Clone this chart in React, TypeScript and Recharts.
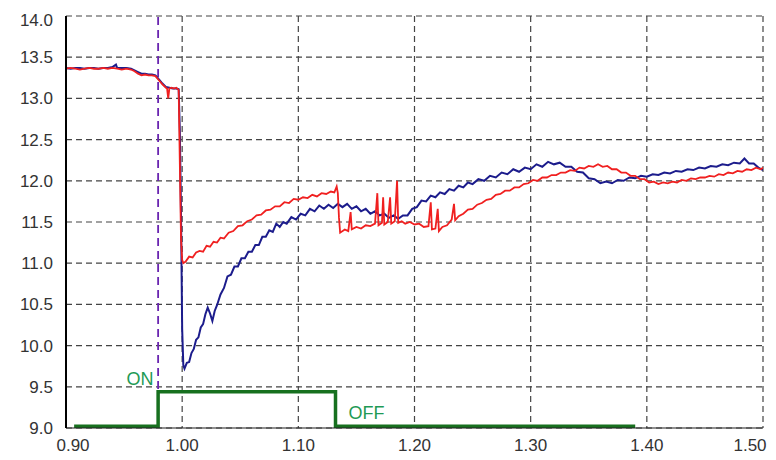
import React from 'react';
import { LineChart, Line, XAxis, YAxis, CartesianGrid, ReferenceLine, ReferenceDot } from 'recharts';

// x: time, y: voltage
const xTicks = [0.9, 1.0, 1.1, 1.2, 1.3, 1.4, 1.5];
const yTicks = [9.0, 9.5, 10.0, 10.5, 11.0, 11.5, 12.0, 12.5, 13.0, 13.5, 14.0];

const switchOn = 0.9793;

const blue: [number, number][] = [
  [0.900, 13.37], [0.904, 13.36], [0.908, 13.37], [0.912, 13.37], [0.916, 13.36], [0.920, 13.37],
  [0.924, 13.37], [0.928, 13.36], [0.932, 13.37], [0.936, 13.37], [0.940, 13.38], [0.943, 13.41],
  [0.944, 13.37], [0.948, 13.37], [0.952, 13.37], [0.956, 13.36], [0.959, 13.34], [0.962, 13.32],
  [0.965, 13.30], [0.968, 13.30], [0.971, 13.29], [0.974, 13.29], [0.977, 13.28], [0.980, 13.23],
  [0.983, 13.18], [0.986, 13.14], [0.989, 13.13], [0.992, 13.12], [0.995, 13.12], [0.997, 13.11],
  [0.998, 12.60], [0.999, 11.60], [1.000, 10.20], [1.001, 9.76], [1.002, 9.72], [1.004, 9.79],
  [1.006, 9.80], [1.008, 9.91], [1.010, 9.96], [1.012, 10.07], [1.014, 10.10], [1.016, 10.22],
  [1.018, 10.26], [1.020, 10.38], [1.022, 10.46], [1.024, 10.39], [1.026, 10.30], [1.028, 10.42],
  [1.030, 10.49], [1.033, 10.62], [1.036, 10.70], [1.039, 10.84], [1.042, 10.86], [1.045, 10.96],
  [1.048, 10.96], [1.051, 11.06], [1.054, 11.06], [1.057, 11.14], [1.060, 11.14], [1.063, 11.22],
  [1.066, 11.22], [1.069, 11.32], [1.072, 11.32], [1.075, 11.40], [1.078, 11.38], [1.081, 11.48],
  [1.084, 11.44], [1.087, 11.50], [1.090, 11.48], [1.094, 11.56], [1.098, 11.53], [1.102, 11.60],
  [1.106, 11.58], [1.110, 11.66], [1.114, 11.63], [1.118, 11.70], [1.122, 11.66], [1.126, 11.71],
  [1.130, 11.67], [1.134, 11.72], [1.138, 11.68], [1.142, 11.72], [1.146, 11.66], [1.150, 11.69],
  [1.154, 11.63], [1.158, 11.66], [1.162, 11.60], [1.166, 11.63], [1.170, 11.58], [1.174, 11.60],
  [1.178, 11.55], [1.182, 11.58], [1.186, 11.54], [1.190, 11.58], [1.194, 11.58], [1.198, 11.66],
  [1.202, 11.68], [1.206, 11.76], [1.210, 11.75], [1.214, 11.82], [1.218, 11.80], [1.222, 11.86],
  [1.226, 11.84], [1.230, 11.90], [1.234, 11.88], [1.238, 11.94], [1.242, 11.92], [1.246, 11.98],
  [1.250, 11.96], [1.255, 12.02], [1.260, 12.00], [1.265, 12.06], [1.270, 12.04], [1.275, 12.10],
  [1.280, 12.08], [1.285, 12.14], [1.290, 12.11], [1.295, 12.16], [1.300, 12.14], [1.305, 12.20],
  [1.310, 12.17], [1.315, 12.23], [1.320, 12.20], [1.325, 12.22], [1.330, 12.17], [1.335, 12.17],
  [1.340, 12.11], [1.345, 12.10], [1.350, 12.03], [1.355, 12.02], [1.360, 11.97], [1.365, 11.99],
  [1.370, 11.97], [1.375, 12.01], [1.380, 12.00], [1.385, 12.04], [1.390, 12.03], [1.395, 12.06],
  [1.400, 12.05], [1.405, 12.08], [1.410, 12.07], [1.415, 12.10], [1.420, 12.09], [1.425, 12.12],
  [1.430, 12.11], [1.435, 12.14], [1.440, 12.13], [1.445, 12.16], [1.450, 12.15], [1.455, 12.18],
  [1.460, 12.17], [1.465, 12.20], [1.470, 12.19], [1.475, 12.22], [1.480, 12.21], [1.484, 12.27],
  [1.488, 12.21], [1.492, 12.21], [1.496, 12.16], [1.500, 12.13],
];

const red: [number, number][] = [
  [0.900, 13.36], [0.904, 13.37], [0.908, 13.36], [0.912, 13.35], [0.916, 13.36], [0.920, 13.37],
  [0.924, 13.36], [0.928, 13.36], [0.932, 13.37], [0.936, 13.36], [0.940, 13.37], [0.944, 13.36],
  [0.948, 13.35], [0.952, 13.36], [0.956, 13.35], [0.959, 13.33], [0.962, 13.30], [0.965, 13.28],
  [0.968, 13.29], [0.971, 13.28], [0.974, 13.28], [0.977, 13.27], [0.980, 13.22], [0.983, 13.17],
  [0.986, 13.13], [0.987, 13.12], [0.988, 13.00], [0.989, 13.12], [0.991, 13.13], [0.993, 13.12],
  [0.995, 13.13], [0.997, 13.10], [0.998, 12.20], [0.999, 11.30], [1.000, 11.04], [1.001, 11.00],
  [1.003, 11.02], [1.006, 11.08], [1.009, 11.07], [1.012, 11.13], [1.015, 11.15], [1.018, 11.14],
  [1.021, 11.21], [1.024, 11.20], [1.027, 11.26], [1.030, 11.25], [1.033, 11.31], [1.036, 11.30],
  [1.040, 11.37], [1.044, 11.39], [1.048, 11.45], [1.052, 11.46], [1.056, 11.51], [1.060, 11.53],
  [1.064, 11.58], [1.068, 11.59], [1.072, 11.64], [1.076, 11.65], [1.080, 11.69], [1.084, 11.69],
  [1.088, 11.74], [1.092, 11.73], [1.096, 11.78], [1.100, 11.77], [1.104, 11.80], [1.108, 11.79],
  [1.112, 11.83], [1.116, 11.81], [1.120, 11.85], [1.124, 11.84], [1.128, 11.87], [1.131, 11.86],
  [1.133, 11.93], [1.134, 11.85], [1.135, 11.55], [1.136, 11.37], [1.140, 11.41], [1.143, 11.39],
  [1.145, 11.62], [1.146, 11.41], [1.150, 11.44], [1.154, 11.42], [1.158, 11.46], [1.162, 11.45],
  [1.166, 11.48], [1.168, 11.85], [1.169, 11.46], [1.172, 11.49], [1.173, 11.80], [1.174, 11.47],
  [1.177, 11.50], [1.179, 11.80], [1.180, 11.48], [1.183, 11.51], [1.185, 12.00], [1.186, 11.49],
  [1.189, 11.51], [1.192, 11.48], [1.196, 11.50], [1.200, 11.47], [1.204, 11.48], [1.208, 11.44],
  [1.212, 11.45], [1.214, 11.74], [1.215, 11.41], [1.218, 11.42], [1.220, 11.66], [1.221, 11.39],
  [1.224, 11.44], [1.228, 11.46], [1.232, 11.53], [1.234, 11.72], [1.235, 11.52], [1.238, 11.57],
  [1.242, 11.60], [1.246, 11.65], [1.250, 11.66], [1.254, 11.71], [1.258, 11.73], [1.262, 11.77],
  [1.266, 11.78], [1.270, 11.83], [1.274, 11.84], [1.278, 11.88], [1.282, 11.88], [1.286, 11.92],
  [1.290, 11.92], [1.294, 11.96], [1.298, 11.97], [1.302, 12.01], [1.306, 12.00], [1.310, 12.04],
  [1.314, 12.04], [1.318, 12.07], [1.322, 12.07], [1.326, 12.10], [1.330, 12.10], [1.334, 12.13],
  [1.338, 12.12], [1.342, 12.16], [1.346, 12.15], [1.350, 12.18], [1.354, 12.17], [1.358, 12.20],
  [1.362, 12.17], [1.366, 12.18], [1.370, 12.14], [1.374, 12.14], [1.378, 12.10], [1.382, 12.10],
  [1.386, 12.06], [1.390, 12.06], [1.394, 12.02], [1.398, 12.02], [1.402, 11.98], [1.406, 11.99],
  [1.410, 11.96], [1.414, 11.98], [1.418, 11.97], [1.422, 11.99], [1.426, 11.98], [1.430, 12.01],
  [1.434, 12.00], [1.438, 12.03], [1.442, 12.02], [1.446, 12.04], [1.450, 12.04], [1.454, 12.06],
  [1.458, 12.05], [1.462, 12.08], [1.466, 12.07], [1.470, 12.10], [1.474, 12.09], [1.478, 12.12],
  [1.482, 12.11], [1.486, 12.14], [1.490, 12.13], [1.494, 12.16], [1.498, 12.14], [1.500, 12.16],
];

// switch signal (ON / OFF step)
const signal: [number, number][] = [
  [0.907, 9.02], [0.9793, 9.02], [0.9793, 9.44], [1.132, 9.44], [1.132, 9.02], [1.39, 9.02],
];

const toRows = (pts: [number, number][]) => pts.map(([x, y]) => ({ x, y }));

const FONT = '"Liberation Sans", Arial, sans-serif';
const TEXT = '#333';

const XTick = ({ x, y, payload }: any) => {
  let dx = 0;
  if (payload.value <= 0.9) dx = 7;
  if (payload.value >= 1.5) dx = -13;
  return (
    <text x={x + dx} y={y} dy={15} textAnchor="middle" fontSize={17} fill={TEXT} fontFamily={FONT}>
      {Number(payload.value).toFixed(2)}
    </text>
  );
};

const YTick = ({ x, y, payload }: any) => {
  const dy = payload.value >= 14 ? 10 : 6;
  return (
    <text x={x} y={y} dy={dy} textAnchor="end" fontSize={17} fill={TEXT} fontFamily={FONT}>
      {Number(payload.value).toFixed(1)}
    </text>
  );
};

export default function App() {
  return (
    <div style={{ position: 'absolute', left: 0, top: 0, width: 776, height: 460, background: '#fff' }}>
      <LineChart width={776} height={460} margin={{ top: 16, right: 13, bottom: 2, left: 6 }}>
        <CartesianGrid stroke="#444" strokeDasharray="6 4" strokeWidth={1.2} />
        <XAxis
          dataKey="x"
          type="number"
          domain={[0.9, 1.5]}
          ticks={xTicks}
          allowDataOverflow
          height={30}
          tickSize={0}
          tickMargin={8}
          tick={<XTick />}
          axisLine={{ stroke: '#222', strokeWidth: 1.2 }}
        />
        <YAxis
          dataKey="y"
          type="number"
          domain={[9, 14]}
          ticks={yTicks}
          allowDataOverflow
          width={60}
          tickSize={0}
          tickMargin={13}
          tick={<YTick />}
          axisLine={{ stroke: '#000', strokeWidth: 2 }}
        />
        <ReferenceLine x={switchOn} stroke="#6a25b0" strokeWidth={1.8} strokeDasharray="8 5" />
        <Line
          data={toRows(blue)}
          dataKey="y"
          type="linear"
          stroke="#1c1c8c"
          strokeWidth={2}
          dot={false}
          isAnimationActive={false}
        />
        <Line
          data={toRows(red)}
          dataKey="y"
          type="linear"
          stroke="#f02020"
          strokeWidth={1.8}
          dot={false}
          isAnimationActive={false}
        />
        <Line
          data={toRows(signal)}
          dataKey="y"
          type="linear"
          stroke="#17701f"
          strokeWidth={3.5}
          dot={false}
          isAnimationActive={false}
        />
        <ReferenceDot
          x={0.9638}
          y={9.6}
          r={0}
          fill="none"
          stroke="none"
          label={{ value: 'ON', position: 'center', fill: '#1f9a55', fontSize: 18, fontFamily: FONT }}
        />
        <ReferenceDot
          x={1.1586}
          y={9.19}
          r={0}
          fill="none"
          stroke="none"
          label={{ value: 'OFF', position: 'center', fill: '#1f9a55', fontSize: 18, fontFamily: FONT }}
        />
      </LineChart>
    </div>
  );
}
